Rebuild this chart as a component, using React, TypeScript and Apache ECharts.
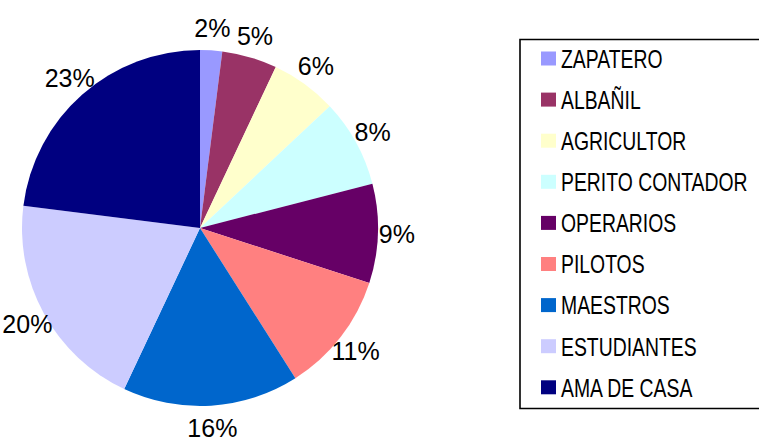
import React, { useEffect, useRef } from "react";
import * as echarts from "echarts";

const categories = [
  "ZAPATERO",
  "ALBAÑIL",
  "AGRICULTOR",
  "PERITO CONTADOR",
  "OPERARIOS",
  "PILOTOS",
  "MAESTROS",
  "ESTUDIANTES",
  "AMA DE CASA",
];
const values = [2, 5, 6, 8, 9, 11, 16, 20, 23];
const colors = [
  "#9999FF",
  "#993366",
  "#FFFFCC",
  "#CCFFFF",
  "#660066",
  "#FF8080",
  "#0066CC",
  "#CCCCFF",
  "#000080",
];

const FONT = "'Liberation Sans', Arial, sans-serif";
const CX = 200;
const CY = 228;
const R = 178;
const LABEL_RX = 197;
const LABEL_RY = 200;

// legend layout
const LEG_X = 520;
const LEG_Y = 39.5;
const LEG_W = 260;
const LEG_H = 369;
const LEG_FIRST = 58.5;
const LEG_STEP = 41.1;

export default function App() {
  const ref = useRef<HTMLDivElement>(null);
  useEffect(() => {
    if (!ref.current) return;
    const chart = echarts.init(ref.current, null, { renderer: "svg" });
    const total = values.reduce((a, b) => a + b, 0);

    const legendEls: any[] = [
      {
        type: "rect",
        shape: { x: LEG_X, y: LEG_Y, width: LEG_W, height: LEG_H },
        style: { fill: "#fff", stroke: "#000", lineWidth: 1.6 },
        z: 10,
      },
    ];
    categories.forEach((name, i) => {
      const cy = LEG_FIRST + i * LEG_STEP;
      legendEls.push({
        type: "rect",
        shape: { x: 541, y: cy - 7, width: 15, height: 14 },
        style: { fill: colors[i] },
        z: 11,
      });
      legendEls.push({
        type: "text",
        x: 561,
        y: cy + 1,
        scaleX: 0.775,
        style: {
          text: name,
          x: 0,
          y: 0,
          fill: "#000",
          font: `25px ${FONT}`,
          verticalAlign: "middle",
          align: "left",
        },
        z: 11,
      });
    });

    chart.setOption({
      animation: false,
      backgroundColor: "#ffffff",
      color: colors,
      graphic: legendEls,
      series: [
        {
          type: "pie",
          center: [CX, CY],
          radius: [0, R],
          startAngle: 90,
          clockwise: true,
          label: {
            show: true,
            position: "outside",
            formatter: "{c}%",
            fontFamily: FONT,
            fontSize: 25,
            lineHeight: 24,
            color: "#000",
            overflow: "none",
          },
          labelLine: { show: false, length: 5, length2: 0 },
          labelLayout: (params: any) => {
            const i = params.dataIndex;
            let before = 0;
            for (let k = 0; k < i; k++) before += values[k];
            const mid = ((before + values[i] / 2) / total) * Math.PI * 2;
            return {
              x: CX + LABEL_RX * Math.sin(mid),
              y: CY - LABEL_RY * Math.cos(mid),
              align: "center",
              verticalAlign: "middle",
            };
          },
          itemStyle: { borderWidth: 0 },
          emphasis: { disabled: true },
          data: categories.map((name, i) => ({ name, value: values[i] })),
        },
      ],
    });
    return () => chart.dispose();
  }, []);
  return (
    <div
      ref={ref}
      style={{ position: "fixed", left: 0, top: 0, width: 759, height: 443 }}
    />
  );
}
